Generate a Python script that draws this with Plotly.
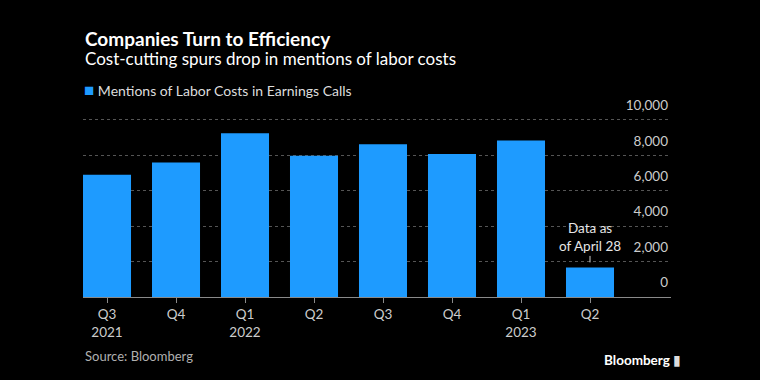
import plotly.graph_objects as go

quarters = ["Q3", "Q4", "Q1", "Q2", "Q3", "Q4", "Q1", "Q2"]
years = ["2021", "", "2022", "", "", "", "2023", ""]
mentions = [6900, 7590, 9250, 7980, 8620, 8070, 8830, 1670]
y_ticks = [0, 2000, 4000, 6000, 8000, 10000]
series_name = "Mentions of Labor Costs in Earnings Calls"

x_pos = list(range(len(quarters)))
tick_text = [q + ("<br>" + y if y else "") for q, y in zip(quarters, years)]

FONT = "Lato"
W, H = 760, 380
Y_TOP = 11800
ML, MR, MB = 83, 89, 83
MT = (H - MB) - 177.5 * Y_TOP / 10000
plot_h = H - MT - MB


def py(ypix):
    # pixel y (from top) -> paper y
    return (H - MB - ypix) / plot_h


def px(xpix):
    return (xpix - ML) / (W - ML - MR)


fig = go.Figure()
fig.add_trace(go.Bar(
    x=x_pos, y=mentions, name=series_name,
    marker=dict(color="#1E9BFF", line=dict(width=0)),
    showlegend=False,
))

annotations = [
    dict(x=x_pos[-1], y=mentions[-1], text="Data as<br>of April 28",
         showarrow=True, arrowhead=0, arrowwidth=1, arrowcolor="#cccccc",
         ax=0, ay=-30, standoff=5,
         font=dict(family=FONT, size=13.5, color="#e6e6e6")),
    dict(xref="paper", yref="paper", x=px(83), y=py(38), xanchor="left", yanchor="middle",
         text="<b>Companies Turn to Efficiency</b>", showarrow=False,
         font=dict(family=FONT, size=19, color="#ffffff")),
    dict(xref="paper", yref="paper", x=px(83), y=py(58), xanchor="left", yanchor="middle",
         text="Cost-cutting spurs drop in mentions of labor costs", showarrow=False,
         font=dict(family=FONT, size=17, color="#ffffff")),
    dict(xref="paper", yref="paper", x=px(82), y=py(89), xanchor="left", yanchor="middle",
         text="<span style='color:#1E9BFF;font-size:17px'>■</span> " + series_name, showarrow=False,
         font=dict(family=FONT, size=14, color="#dddddd")),
    dict(xref="paper", yref="paper", x=px(83), y=py(356), xanchor="left", yanchor="middle",
         text="Source: Bloomberg", showarrow=False,
         font=dict(family=FONT, size=13, color="#b0b0b0")),
    dict(xref="paper", yref="paper", x=px(683), y=py(360), xanchor="right", yanchor="middle",
         text="<b>Bloomberg</b> <span style='color:#dddddd'>▮</span>", showarrow=False,
         font=dict(family=FONT, size=13.5, color="#ffffff")),
]

fig.update_layout(
    width=W, height=H,
    paper_bgcolor="#000000", plot_bgcolor="#000000",
    margin=dict(l=ML, r=MR, t=MT, b=MB, pad=0),
    bargap=0.304,
    showlegend=False,
    xaxis=dict(
        tickmode="array", tickvals=x_pos, ticktext=tick_text,
        range=[-0.348, 8.174], showgrid=False, zeroline=False,
        showline=True, linecolor="#8a8a8a", linewidth=1,
        ticks="outside", ticklen=5, tickcolor="#8a8a8a",
        tickfont=dict(family=FONT, size=13.5, color="#cccccc"),
    ),
    yaxis=dict(
        side="right", range=[0, Y_TOP], tickvals=y_ticks, tickformat=",",
        ticklabelposition="inside top", ticklabelshift=-5,
        showgrid=True, gridcolor="#555555", griddash="dot", gridwidth=1,
        zeroline=False, showline=False, ticks="",
        tickfont=dict(family=FONT, size=13.5, color="#cccccc"),
    ),
    annotations=annotations,
)

fig.write_html("out.html", config={"displayModeBar": False},
               post_script="document.body.style.margin='0';document.body.style.background='#000';")
